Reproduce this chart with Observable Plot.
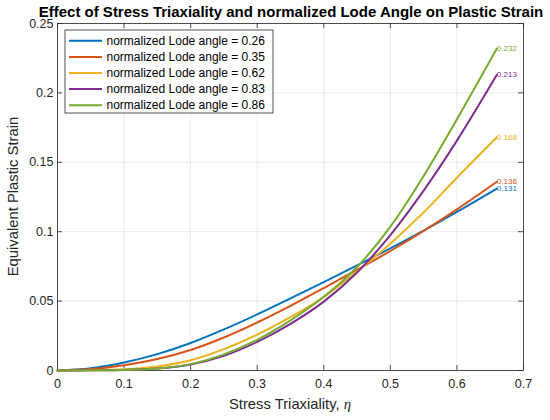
<!DOCTYPE html>
<html>
<head>
<meta charset="utf-8">
<script src="https://cdn.jsdelivr.net/npm/d3@7"></script>
<script src="https://cdn.jsdelivr.net/npm/@observablehq/plot@0.6"></script>
<style>
  html, body { margin: 0; padding: 0; background: #fff; }
  svg { font-family: "Liberation Sans", Arial, Helvetica, sans-serif; }
</style>
</head>
<body>
<div id="chart"></div>
<script>
// ---- data ----
const triaxiality = [0, 0.05, 0.1, 0.15, 0.2, 0.25, 0.3, 0.35, 0.4, 0.45, 0.5, 0.55, 0.6, 0.66];
const lode026 = [0, 0.0016, 0.0058, 0.0118, 0.0198, 0.0296, 0.0404, 0.0519, 0.0637, 0.0757, 0.0880, 0.1008, 0.1142, 0.131];
const lode035 = [0, 0.0010, 0.0038, 0.0083, 0.0148, 0.0238, 0.0346, 0.0466, 0.0594, 0.0726, 0.0861, 0.1006, 0.1161, 0.136];
const lode062 = [0, 0.0002, 0.0009, 0.0029, 0.0074, 0.0154, 0.0259, 0.0384, 0.0529, 0.0714, 0.0914, 0.1139, 0.1389, 0.168];
const lode083 = [0, 0.0001, 0.0004, 0.0014, 0.0044, 0.0106, 0.0206, 0.0336, 0.0496, 0.0706, 0.0976, 0.1296, 0.1656, 0.213];
const lode086 = [0, 0.0001, 0.0004, 0.0014, 0.0046, 0.0116, 0.0221, 0.0361, 0.0531, 0.0746, 0.1036, 0.1401, 0.1811, 0.232];
const seriesLabels = [
  "normalized Lode angle = 0.26",
  "normalized Lode angle = 0.35",
  "normalized Lode angle = 0.62",
  "normalized Lode angle = 0.83",
  "normalized Lode angle = 0.86"
];
const seriesValues = [lode026, lode035, lode062, lode083, lode086];
const seriesColors = ["#0072BD", "#D95319", "#EDB120", "#7E2F8E", "#77AC30"];
const xTicks = [0, 0.1, 0.2, 0.3, 0.4, 0.5, 0.6, 0.7];
const yTicks = [0, 0.05, 0.1, 0.15, 0.2, 0.25];
const titleText = "Effect of Stress Triaxiality and normalized Lode Angle on Plastic Strain";
const yLabelText = "Equivalent Plastic Strain";
const xLabelText = "Stress Triaxiality, ";
const xLabelSymbol = "η";

// ---- build tables ----
const rows = [];
seriesValues.forEach((vals, i) => {
  vals.forEach((v, j) => rows.push({series: seriesLabels[i], x: triaxiality[j], y: v}));
});
const ends = seriesValues.map((vals, i) => ({
  series: seriesLabels[i],
  x: triaxiality[triaxiality.length - 1],
  y: vals[vals.length - 1]
}));

const W = 550, H = 420, mL = 57, mR = 27, mT = 23, mB = 50;
const pw = W - mL - mR, ph = H - mT - mB;
const fmt = d3.format("~g");
const axisColor = "#262626";

const plot = Plot.plot({
  width: W, height: H,
  marginLeft: mL, marginRight: mR, marginTop: mT, marginBottom: mB,
  style: {fontFamily: '"Liberation Sans", Arial, Helvetica, sans-serif', background: "#fff"},
  x: {domain: [0, 0.7]},
  y: {domain: [0, 0.25]},
  color: {domain: seriesLabels, range: seriesColors},
  marks: [
    Plot.gridX(xTicks, {stroke: axisColor, strokeOpacity: 0.12, strokeWidth: 0.8}),
    Plot.gridY(yTicks, {stroke: axisColor, strokeOpacity: 0.12, strokeWidth: 0.8}),
    Plot.axisX({ticks: xTicks, tickSize: 0, tickPadding: 9, tickFormat: fmt, fontSize: 12.5, fill: axisColor, label: null}),
    Plot.axisY({ticks: yTicks, tickSize: 0, tickPadding: 4, tickFormat: fmt, fontSize: 12.5, fill: axisColor, label: null}),
    Plot.tickX(xTicks, {x: d => d, insetTop: ph - 5, stroke: axisColor, strokeWidth: 0.8}),
    Plot.tickX(xTicks, {x: d => d, insetBottom: ph - 5, stroke: axisColor, strokeWidth: 0.8}),
    Plot.tickY(yTicks, {y: d => d, insetRight: pw - 5, stroke: axisColor, strokeWidth: 0.8}),
    Plot.tickY(yTicks, {y: d => d, insetLeft: pw - 5, stroke: axisColor, strokeWidth: 0.8}),
    Plot.frame({stroke: axisColor, strokeWidth: 0.8}),
    Plot.line(rows, {x: "x", y: "y", z: "series", stroke: "series", strokeWidth: 2, curve: "catmull-rom"}),
    Plot.text(ends, {x: "x", y: "y", text: d => d3.format(".3f")(d.y), fill: "series", textAnchor: "start", fontSize: 8})
  ]
});

document.getElementById("chart").appendChild(plot);
const svg = d3.select(plot);

// title
svg.append("text")
  .attr("x", mL + pw / 2 + 1).attr("y", 17)
  .attr("text-anchor", "middle")
  .attr("font-size", 15).attr("font-weight", "bold").attr("fill", "#000")
  .text(titleText);

// x label
const xl = svg.append("text")
  .attr("x", mL + pw / 2).attr("y", 409)
  .attr("text-anchor", "middle")
  .attr("font-size", 14.8).attr("fill", axisColor);
xl.append("tspan").text(xLabelText);
xl.append("tspan").attr("font-family", '"Liberation Serif", "DejaVu Serif", serif').attr("font-style", "italic").text(xLabelSymbol);

// y label
svg.append("text")
  .attr("transform", `translate(18.3,${mT + ph / 2}) rotate(-90)`)
  .attr("text-anchor", "middle")
  .attr("font-size", 14.8).attr("fill", axisColor)
  .text(yLabelText);

// legend
const lg = svg.append("g").attr("text-anchor", "start");
lg.append("rect")
  .attr("x", 65).attr("y", 30).attr("width", 208).attr("height", 83)
  .attr("fill", "#fff").attr("stroke", axisColor).attr("stroke-width", 0.8);
seriesLabels.forEach((lab, i) => {
  const cy = 40.8 + i * 16.1;
  lg.append("line")
    .attr("x1", 69).attr("x2", 102).attr("y1", cy).attr("y2", cy)
    .attr("stroke", seriesColors[i]).attr("stroke-width", 2);
  lg.append("text")
    .attr("x", 106.5).attr("y", cy).attr("dy", "0.35em")
    .attr("text-anchor", "start")
    .attr("font-size", 12).attr("fill", "#000")
    .text(lab);
});
</script>
</body>
</html>
